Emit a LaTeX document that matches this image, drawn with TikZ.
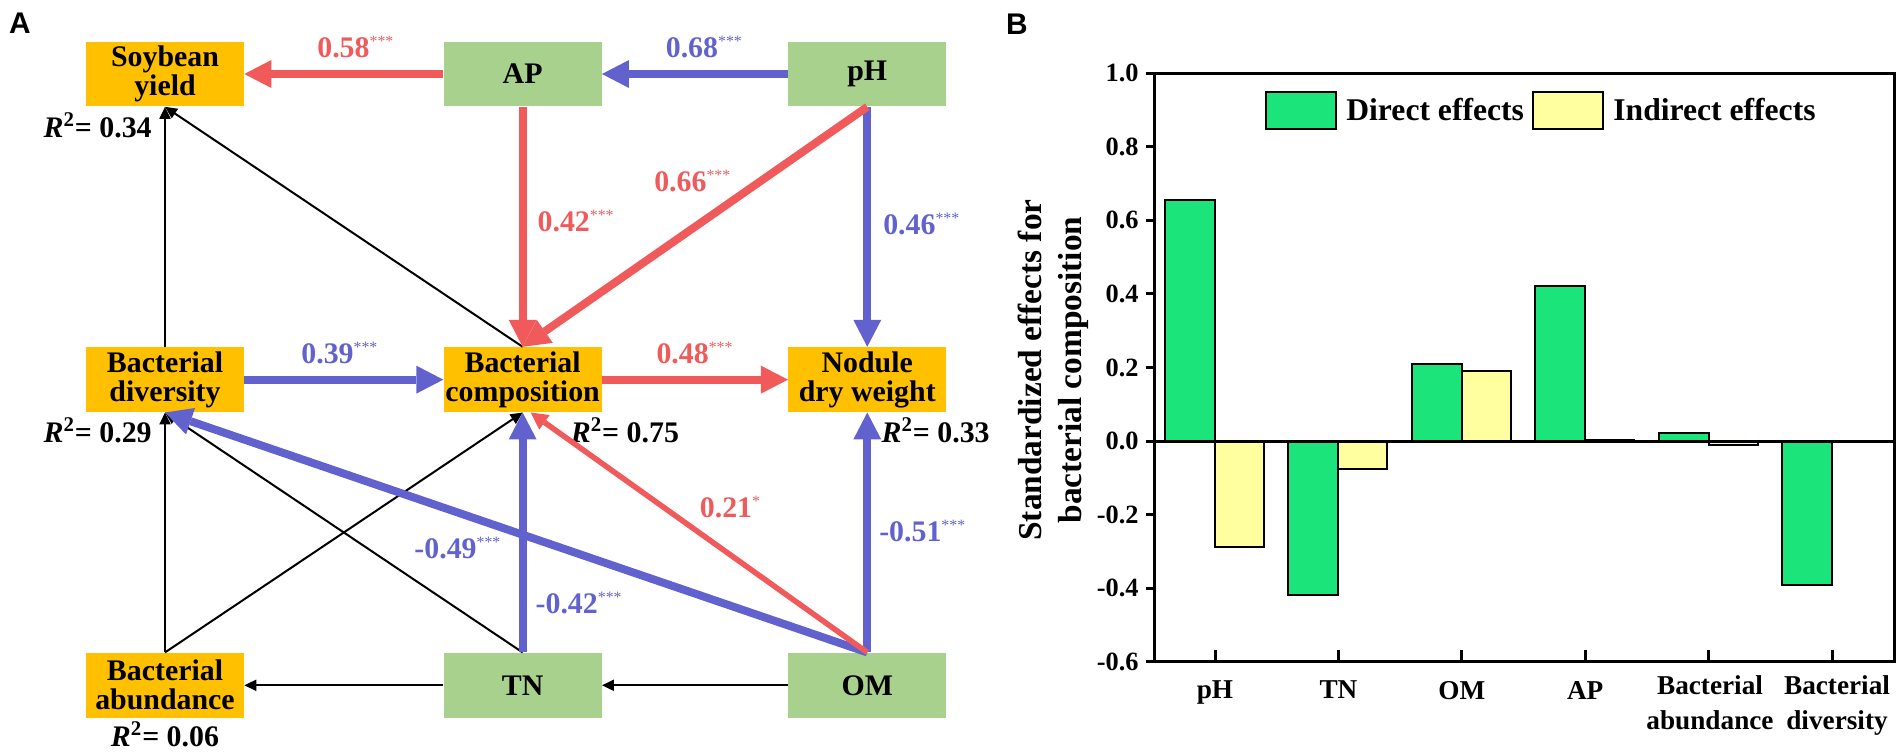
\documentclass[tikz,border=0pt]{standalone}
\usepackage{fontspec}
\setmainfont{Liberation Serif}
\newfontfamily\panelfont{Liberation Sans}
\usepackage{tikz}
\usetikzlibrary{
    arrows.meta,
    positioning,
    calc
}
\definecolor{soilgreen}{RGB}{169, 209, 142}
\definecolor{resporange}{RGB}{255, 192, 0}
\definecolor{posred}{RGB}{240, 90, 90}
\definecolor{negblue}{RGB}{98, 98, 206}
\definecolor{bargreen}{RGB}{26, 228, 122}
\definecolor{baryellow}{RGB}{255, 255, 160}
\tikzstyle{varbox} = [
    rectangle,
    inner sep=0pt,
    minimum width=3.16cm,
    minimum height=1.3cm,
    align=center,
    font=\fontsize{17}{16.5}\selectfont\bfseries
]
\tikzstyle{arrow} = [
    -{Triangle[length=0.24cm, width=0.22cm]},
    line width=0.04cm,
    black
]
\newcommand{\pstar}[1]{\textsuperscript{\mdseries\fontsize{9}{9}\selectfont #1}}

\begin{document}
\begin{tikzpicture}[
    x=0.02cm, y=-0.02cm,
    resp/.style={varbox, fill=resporange},
    soil/.style={varbox, fill=soilgreen},
    posarrow/.style={-{Triangle[length=0.54cm, width=0.56cm, line width=0pt]}, line width=0.16cm, color=posred},
    negarrow/.style={-{Triangle[length=0.54cm, width=0.56cm, line width=0pt]}, line width=0.16cm, color=negblue},
    weakarrow/.style={-{Triangle[length=0.34cm, width=0.36cm, line width=0pt]}, line width=0.11cm, color=posred},
    poslabel/.style={font=\fontsize{17}{18}\selectfont\bfseries, inner sep=0pt, text=posred},
    neglabel/.style={font=\fontsize{17}{18}\selectfont\bfseries, inner sep=0pt, text=negblue},
    rsq/.style={font=\fontsize{17}{18}\selectfont\bfseries, inner sep=0pt},
    panel/.style={font=\fontsize{17}{17}\selectfont\panelfont\bfseries, inner sep=0pt},
    axisline/.style={line width=0.06cm, black},
    directbar/.style={draw=black, line width=0.04cm, fill=bargreen},
    indirectbar/.style={draw=black, line width=0.04cm, fill=baryellow},
    ticklabel/.style={font=\fontsize{15}{15}\selectfont\bfseries, anchor=east, inner sep=0pt, xshift=-0.12cm},
    catlabel/.style={font=\fontsize{15.5}{20}\selectfont\bfseries, align=center, inner sep=0pt},
    legendtext/.style={font=\fontsize{18}{18}\selectfont\bfseries, anchor=west, inner sep=0pt},
    axislabel/.style={font=\fontsize{19}{22.8}\selectfont\bfseries, align=center, rotate=90}
]
    \useasboundingbox (0,0) rectangle (1902,751);

    % Panel A
    \node[panel] (lblA) at (20,23) {A};

    % Top row
    \node[resp] (soy) at (165,74) {Soybean\\yield};
    \node[soil, right=3.98cm of soy] (ap) {AP};
    \node[soil, right=3.72cm of ap] (ph) {pH};

    % Middle row
    \node[resp, below=4.8cm of soy] (div) {Bacterial\\diversity};
    \node[resp, below=4.8cm of ap] (comp) {Bacterial\\composition};
    \node[resp, below=4.8cm of ph] (nod) {Nodule\\dry weight};

    % Bottom row
    \node[resp, below=4.8cm of div] (abun) {Bacterial\\abundance};
    \node[soil, below=4.8cm of comp] (tn) {TN};
    \node[soil, below=4.8cm of nod] (om) {OM};

    % Explained variance
    \node[rsq, anchor=east] (rsoy) at ([xshift=-0.26cm, yshift=-0.36cm]soy.south) {\textit{R}\textsuperscript{2}= 0.34};
    \node[rsq, anchor=east] (rdiv) at ([xshift=-0.26cm, yshift=-0.36cm]div.south) {\textit{R}\textsuperscript{2}= 0.29};
    \node[rsq, anchor=west] (rcomp) at ([xshift=0.96cm, yshift=-0.36cm]comp.south) {\textit{R}\textsuperscript{2}= 0.75};
    \node[rsq, anchor=west] (rnod) at ([xshift=0.28cm, yshift=-0.36cm]nod.south) {\textit{R}\textsuperscript{2}= 0.33};
    \node[rsq] (rabun) at ([yshift=-0.32cm]abun.south) {\textit{R}\textsuperscript{2}= 0.06};

    % Non-significant paths
    \draw[arrow] (div) -- (soy);
    \draw[arrow] (comp.north) -- (soy.south);
    \draw[arrow] (abun) -- (div);
    \draw[arrow] (abun.north) -- (comp.south);
    \draw[arrow] (tn.north) -- (div.south);
    \draw[arrow] (om) -- (tn);
    \draw[arrow] (tn) -- (abun);

    % Negative paths
    \draw[negarrow] (ph) -- node[neglabel, above=0.24cm, pos=0.45] {0.68\pstar{***}} (ap);
    \draw[negarrow] (ph) -- node[neglabel, right=0.24cm, pos=0.49] {0.46\pstar{***}} (nod);
    \draw[negarrow] (div) -- node[neglabel, above=0.24cm, pos=0.48] {0.39\pstar{***}} (comp);
    \draw[negarrow] (tn) -- node[neglabel, right=0.18cm, pos=0.204] {-0.42\pstar{***}} (comp);
    \draw[negarrow] (om.north) -- node[neglabel, below=0.42cm, pos=0.583] {-0.49\pstar{***}} (div.south);
    \draw[negarrow] (om) -- node[neglabel, right=0.16cm, pos=0.504] {-0.51\pstar{***}} (nod);

    % Positive paths
    \draw[posarrow] (ap) -- node[poslabel, above=0.24cm, pos=0.44] {0.58\pstar{***}} (soy);
    \draw[posarrow] (ap) -- node[poslabel, right=0.22cm, pos=0.475] {0.42\pstar{***}} (comp);
    \draw[posarrow] (ph.south) -- node[poslabel, left=0.52cm, pos=0.308] {0.66\pstar{***}} (comp.north);
    \draw[posarrow] (comp) -- node[poslabel, above=0.24cm] {0.48\pstar{***}} (nod);
    \draw[weakarrow] (om.north) -- node[poslabel, pos=0.55, anchor=south west, xshift=0.3cm] {0.21\pstar{*}} ([xshift=0.16cm]comp.south);

    % Panel B
    \node[panel] (lblB) at (1017,24) {B};
    \node[axislabel] (ylab) at (1053,370) {Standardized effects for\\bacterial composition};

    % Legend
    \draw[directbar] (1266,92) rectangle (1336,129);
    \node[legendtext] (legdirect) at (1346,110) {Direct effects};
    \draw[indirectbar] (1533,92) rectangle (1603,129);
    \node[legendtext] (legindirect) at (1613,110) {Indirect effects};

    \begin{scope}[shift={(1154,441)}, x=0.02cm, y=7.36cm]
        % Bars
        \draw[directbar] (11,0) rectangle (61,0.655);
        \draw[indirectbar] (61,0) rectangle (110,-0.289);
        \draw[directbar] (134.4,0) rectangle (184.4,-0.419);
        \draw[indirectbar] (184.4,0) rectangle (233.4,-0.076);
        \draw[directbar] (257.8,0) rectangle (307.8,0.208);
        \draw[indirectbar] (307.8,0) rectangle (356.8,0.190);
        \draw[directbar] (381.2,0) rectangle (431.2,0.420);
        \draw[indirectbar] (431.2,0) rectangle (480.2,0.004);
        \draw[directbar] (504.6,0) rectangle (554.6,0.022);
        \draw[indirectbar] (554.6,0) rectangle (603.6,-0.011);
        \draw[directbar] (628,0) rectangle (678,-0.390);
        \draw[indirectbar] (678,0) rectangle (727,-0.003);

        % Frame and zero line
        \draw[axisline] (0,-0.6) rectangle (740,1.0);
        \draw[axisline] (0,0) -- (740,0);

        % Y ticks
        \draw[axisline] (0,1.0) -- (-8,1.0) node[ticklabel] {1.0};
        \draw[axisline] (0,0.8) -- (-8,0.8) node[ticklabel] {0.8};
        \draw[axisline] (0,0.6) -- (-8,0.6) node[ticklabel] {0.6};
        \draw[axisline] (0,0.4) -- (-8,0.4) node[ticklabel] {0.4};
        \draw[axisline] (0,0.2) -- (-8,0.2) node[ticklabel] {0.2};
        \draw[axisline] (0,0.0) -- (-8,0.0) node[ticklabel] {0.0};
        \draw[axisline] (0,-0.2) -- (-8,-0.2) node[ticklabel] {-0.2};
        \draw[axisline] (0,-0.4) -- (-8,-0.4) node[ticklabel] {-0.4};
        \draw[axisline] (0,-0.6) -- (-8,-0.6) node[ticklabel] {-0.6};

        % X ticks
        \draw[axisline] (61,-0.6) -- (61,-0.567);
        \draw[axisline] (184.4,-0.6) -- (184.4,-0.567);
        \draw[axisline] (307.8,-0.6) -- (307.8,-0.567);
        \draw[axisline] (431.2,-0.6) -- (431.2,-0.567);
        \draw[axisline] (554.6,-0.6) -- (554.6,-0.567);
        \draw[axisline] (678,-0.6) -- (678,-0.567);

        % Categories
        \node[catlabel, below=0.38cm] (catph) at (61,-0.6) {pH};
        \node[catlabel, below=0.38cm] (cattn) at (184.4,-0.6) {TN};
        \node[catlabel, below=0.38cm] (catom) at (307.8,-0.6) {OM};
        \node[catlabel, below=0.38cm] (catap) at (431.2,-0.6) {AP};
        \node[catlabel, below=0.26cm] (catabun) at (556,-0.6) {Bacterial\\abundance};
        \node[catlabel, below=0.26cm] (catdiv) at (683,-0.6) {Bacterial\\diversity};
    \end{scope}
\end{tikzpicture}
\end{document}
